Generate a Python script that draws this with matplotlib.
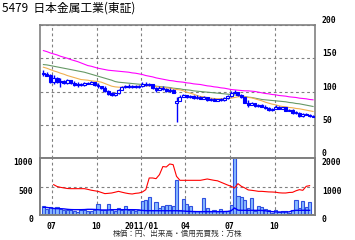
import numpy as np
import pandas as pd
import matplotlib
matplotlib.use('Agg')
import matplotlib.pyplot as plt
import matplotlib.dates as mdates

plt.rcParams['font.family'] = ['DejaVu Sans', 'Noto Sans CJK JP']

# weekly candles, 2010/06 - 2011/12
weeks = pd.date_range('2010-06-14', periods=80, freq='7D')

opens = [127, 126, 125, 114, 121, 114, 116, 113, 117, 113,
         110, 112, 110, 113, 112, 114, 110, 108, 106, 101,
         97, 94, 97, 103, 107, 109, 107, 109, 107, 108,
         112, 110, 111, 105, 103, 106, 104, 101, 103, 82,
         86, 92, 94, 91, 93, 90, 92, 89, 91, 87,
         89, 86, 88, 87, 90, 93, 98, 99, 94, 91,
         83, 80, 82, 78, 80, 77, 75, 72, 74, 77,
         74, 76, 71, 72, 67, 68, 63, 66, 65, 63]
highs = [133, 130, 127, 125, 122, 120, 117, 119, 118, 116,
         115, 113, 115, 114, 116, 115, 113, 109, 108, 102,
         99, 98, 104, 108, 110, 111, 110, 110, 110, 114,
         115, 113, 112, 107, 108, 108, 106, 105, 104, 91,
         94, 96, 95, 95, 94, 94, 93, 93, 92, 90,
         90, 89, 90, 91, 94, 101, 103, 100, 96, 92,
         87, 84, 83, 81, 81, 79, 77, 75, 79, 78,
         77, 77, 74, 73, 70, 69, 67, 68, 66, 64]
lows = [124, 123, 113, 112, 113, 107, 112, 112, 112, 109,
        107, 108, 109, 111, 111, 109, 105, 104, 100, 95,
        93, 93, 96, 102, 105, 106, 106, 106, 106, 107,
        109, 109, 104, 100, 102, 103, 100, 100, 97, 54,
        85, 91, 90, 90, 89, 89, 88, 88, 86, 86,
        85, 85, 86, 86, 89, 92, 97, 93, 90, 82,
        76, 79, 77, 77, 76, 74, 70, 71, 73, 73,
        73, 70, 70, 66, 66, 61, 62, 64, 62, 61]
closes = [126, 124, 114, 121, 114, 116, 113, 117, 113, 110,
          112, 110, 113, 112, 114, 110, 108, 106, 101, 96,
          94, 97, 103, 107, 109, 107, 109, 107, 108, 112,
          110, 111, 105, 103, 106, 104, 101, 103, 98, 86,
          92, 94, 91, 93, 90, 92, 89, 91, 87, 89,
          86, 88, 87, 90, 93, 98, 99, 94, 91, 83,
          80, 82, 78, 80, 77, 75, 72, 74, 77, 74,
          76, 71, 72, 67, 68, 63, 66, 65, 63, 62]

ma13 = [136.5, 135, 133, 131, 129.5, 127.5, 126, 124, 122.5, 121,
        119.5, 118, 117.5, 117, 116, 115.5, 115, 114, 112, 110,
        108, 107, 106.5, 106.5, 107, 107, 107.5, 107.5, 108, 108,
        108.5, 108.5, 108.5, 107.5, 107, 106, 105.5, 105, 104, 103,
        102.5, 101, 99, 97.5, 96, 94, 92.5, 92, 91, 90,
        89.5, 89, 89, 89.5, 89.5, 90, 91, 92, 92.5, 92,
        91, 90.5, 89, 87.5, 86, 84, 82.5, 81, 80, 78.5,
        77.5, 77, 76, 75.5, 74.5, 74, 73, 72, 71, 70]
ma26 = [140.5, 140, 139, 138, 137, 136, 135, 134, 133, 132,
        131, 130, 129, 127.5, 126, 124.5, 123, 121.5, 120, 118.5,
        117, 115, 114, 113.5, 113, 112.5, 112, 111.5, 111, 110.5,
        110, 109.5, 109, 108, 107.5, 107, 106.5, 106, 105, 104.5,
        104, 103, 102.5, 102, 101, 100.5, 100, 99.5, 99, 98.5,
        98, 97.5, 97, 96.5, 96, 95.5, 95, 94, 93, 92.5,
        91.5, 91, 90, 89, 88, 87.5, 87, 86.5, 86, 85.5,
        85, 84.5, 83.5, 83, 82, 81.5, 80.5, 79.5, 78.5, 77.5]
ma52 = [161.5, 160, 158, 156.5, 155, 153, 151.5, 150, 148, 146.5,
        145, 143, 141, 139, 138, 136.5, 135, 134, 133, 132,
        131.5, 131, 130.5, 130, 129.5, 129, 128, 127.5, 126.5, 125.5,
        124, 123, 122, 120.5, 119.5, 118.5, 117.5, 116.5, 116, 115,
        114.5, 114, 113, 112.5, 111.5, 111, 110.5, 109.5, 108.5, 108,
        107, 106.5, 105.5, 105, 104, 103, 102.5, 102, 101.5, 101,
        101, 100.5, 100, 99, 98, 97, 96.5, 95.5, 95, 94,
        93.5, 93, 92, 91.5, 91, 90, 89.5, 89, 88, 87.5]

# volume (left axis) and margin balances (right axis), 79 weeks
volume = [152, 105, 140, 123, 135, 111, 82, 82, 94, 76,
          58, 94, 82, 76, 70, 88, 193, 94, 88, 193,
          88, 76, 123, 94, 152, 94, 82, 76, 82, 240,
          269, 316, 82, 234, 123, 152, 170, 170, 164, 608,
          94, 281, 199, 152, 76, 64, 64, 298, 117, 76,
          82, 76, 105, 70, 70, 175, 1000, 328, 316, 257,
          123, 298, 76, 152, 140, 105, 82, 35, 82, 47,
          70, 64, 35, 82, 263, 123, 245, 145, 222]
sell_bal = [np.nan, np.nan, np.nan, 1065, 1000, 971, 950, 930, 924, 924,
            924, 924, 924, 900, 870, 850, 830, 790, 750, 760,
            772, 800, 830, 800, 772, 750, 737, 760, 772, 807,
            889, 1299, 1299, 1275, 1416, 1700, 1685, 1790, 1767, 1357,
            1217, 1217, 1217, 1217, 1217, 1217, 1217, 1240, 1264, 1240,
            1217, 1200, 1150, 1100, 1050, 1006, 948, 1100, 1006, 950,
            880, 866, 850, 830, 830, 820, 810, 807, 800, 780,
            772, 772, 790, 796, 850, 889, 866, 1006, 1030]
buy_bal = [270, 265, 250, 230, 222, 222, 215, 200, 190, 187,
           187, 187, 190, 199, 199, 195, 185, 176, 176, 176,
           187, 187, 190, 187, 187, 187, 187, 185, 180, 160,
           152, 152, 152, 150, 150, 150, 150, 150, 150, 150,
           145, 140, 130, 125, 120, 117, 117, 117, 117, 117,
           117, 117, 117, 120, 125, 150, 246, 170, 164, 164,
           164, 164, 164, 164, 160, 150, 130, 117, 110, 105,
           105, 105, 110, 150, 164, 164, 164, 164, 164]

tick_dates = pd.to_datetime(['2010-07-01', '2010-10-01', '2011-01-01',
                             '2011-04-01', '2011-07-01', '2011-10-01'])
tick_labels = ['07', '10', '2011/01', '04', '07', '10']

gray = '#808080'
blue = '#0000ff'
dash = (0, (2.5, 2.5))

fig = plt.figure(figsize=(3.55, 2.4), dpi=100)
ax1 = fig.add_axes([40 / 355, 1 - 158 / 240, 275 / 355, 133 / 240])
ax2 = fig.add_axes([40 / 355, 1 - 215 / 240, 275 / 355, 57 / 240], sharex=ax1)
ax2r = ax2.twinx()

x = mdates.date2num(weeks)
o = np.array(opens); c = np.array(closes)
up = c >= o

# moving averages
ax1.plot(x, ma52, color='#ff00ff', lw=0.8, zorder=2)
ax1.plot(x, ma26, color='#669966', lw=0.8, zorder=2)
ax1.plot(x, ma13, color='#f0b050', lw=0.8, zorder=2)

# candles
ax1.vlines(x, lows, highs, color=blue, lw=1.0, zorder=3)
body = np.maximum(np.abs(c - o), 1.5)
ax1.bar(x, body, bottom=np.minimum(o, c), width=6.0,
        color=np.where(up, 'white', blue), edgecolor=blue, lw=0.8, zorder=4)

ax1.set_ylim(0, 200)
ax1.set_yticks([0, 50, 100, 150, 200])
ax1.yaxis.tick_right()
ax1.set_xlim(mdates.date2num(pd.Timestamp('2010-06-07')),
             mdates.date2num(pd.Timestamp('2011-12-23')))
ax1.set_xticks(mdates.date2num(tick_dates))
ax1.tick_params(labelbottom=False)

# volume + margin balances
nv = len(volume)
ax2.bar(x[:nv], volume, width=6.5, color='#88bbff', edgecolor='#3050e0',
        lw=0.8, zorder=2)
ax2.set_ylim(0, 1000)
ax2.set_yticks([0, 500, 1000])
ax2.axhline(500, color=gray, lw=0.8, ls=dash, zorder=1)
ax2r.plot(x[:nv], sell_bal, color='#ff0000', lw=0.8)
ax2r.plot(x[:nv], buy_bal, color=blue, lw=1)
ax2r.set_ylim(0, 2000)
ax2r.set_yticks([0, 1000, 2000])
ax2.set_xticks(mdates.date2num(tick_dates))
ax2.set_xticklabels(tick_labels)

for ax in (ax1, ax2, ax2r):
    for s in ax.spines.values():
        s.set_color(gray)
        s.set_linewidth(1.2)
    ax.tick_params(length=0, labelsize=5.8, pad=5)
    for t in ax.get_yticklabels():
        t.set_fontweight('bold')
        t.set_fontfamily('DejaVu Sans Mono')
        t.set_va('bottom' if ax is ax1 else 'top')
for t in ax2.get_xticklabels():
    t.set_fontweight('bold')
    t.set_fontfamily('DejaVu Sans Mono')
ax2.tick_params(axis='x', pad=5)

ax1.grid(True, color=gray, lw=0.8, ls=dash, zorder=0)
ax2.grid(True, axis='x', color=gray, lw=0.8, ls=dash, zorder=0)
ax1.set_axisbelow(True)
ax2.set_axisbelow(True)

fig.text(2 / 355, 1 - 8 / 240, '5479  日本金属工業(東証)', fontsize=8.5,
         family=['Noto Sans CJK JP'], va='center', ha='left')
fig.text(178 / 355, 1 - 234 / 240, '株価：円、出来高・信用売買残：万株', fontsize=5.5,
         family=['Noto Sans CJK JP'], va='center', ha='center', color='#333333')

fig.savefig('out.png', dpi=100)
